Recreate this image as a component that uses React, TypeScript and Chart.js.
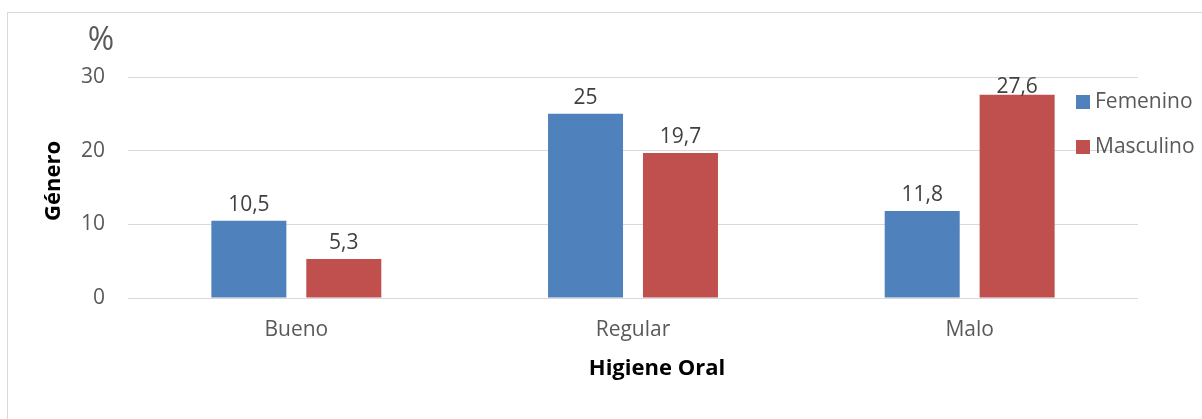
import React, { useEffect, useRef } from "react";
import { Chart, registerables } from "chart.js";

Chart.register(...registerables);

const categories = ["Bueno", "Regular", "Malo"];
const femenino = [10.5, 25, 11.8];
const masculino = [5.3, 19.7, 27.6];
const seriesLabels = ["Femenino", "Masculino"];
const yTicks = [0, 10, 20, 30];
const xTitle = "Higiene Oral";
const yTitle = "Género";

const FONT = "'Open Sans', 'Noto Sans', sans-serif";
const BLUE = "#4F81BD";
const RED = "#C0504D";
const GREY_TEXT = "#595959";

const fmt = (v: number) => String(v).replace(".", ",");

// Value labels above each bar, kept inside the plot area
const valueLabels = {
  id: "valueLabels",
  afterDatasetsDraw(chart: any) {
    const { ctx, chartArea } = chart;
    ctx.save();
    ctx.font = `21px ${FONT}`;
    ctx.fillStyle = "#404040";
    ctx.textAlign = "center";
    ctx.textBaseline = "alphabetic";
    chart.data.datasets.forEach((ds: any, di: number) => {
      const meta = chart.getDatasetMeta(di);
      meta.data.forEach((bar: any, i: number) => {
        const y = Math.max(bar.y - 10, chartArea.top + 16);
        ctx.fillText(fmt(ds.data[i]), bar.x, y);
      });
    });
    ctx.restore();
  },
};

// Legend over the right side of the plot, axis titles and the "%" unit mark
const annotations = {
  id: "annotations",
  afterDraw(chart: any) {
    const { ctx } = chart;
    ctx.save();
    ctx.font = `21px ${FONT}`;
    ctx.textBaseline = "middle";
    ctx.textAlign = "left";
    chart.data.datasets.forEach((ds: any, i: number) => {
      const cy = 102 + i * 45;
      ctx.fillStyle = ds.backgroundColor;
      ctx.fillRect(1076, cy - 7, 14, 14);
      ctx.fillStyle = GREY_TEXT;
      ctx.fillText(ds.label, 1095, cy);
    });

    ctx.font = `32px ${FONT}`;
    ctx.textAlign = "center";
    ctx.fillStyle = GREY_TEXT;
    ctx.fillText("%", 101, 41);

    ctx.fillStyle = "#000";
    ctx.font = `bold 22px ${FONT}`;
    ctx.fillText(xTitle, 657, 369);

    ctx.translate(54, 181);
    ctx.rotate(-Math.PI / 2);
    ctx.fillText(yTitle, 0, 0);
    ctx.restore();
  },
};

export default function App() {
  const ref = useRef<HTMLCanvasElement | null>(null);

  useEffect(() => {
    if (!ref.current) return;
    const chart = new Chart(ref.current, {
      type: "bar",
      data: {
        labels: categories,
        datasets: [
          { label: seriesLabels[0], data: femenino, backgroundColor: BLUE },
          { label: seriesLabels[1], data: masculino, backgroundColor: RED },
        ],
      },
      options: {
        animation: false,
        responsive: false,
        maintainAspectRatio: false,
        layout: { padding: { left: 0, right: 64, top: 77, bottom: 0 } },
        datasets: {
          bar: { categoryPercentage: 0.564, barPercentage: 0.79 },
        },
        plugins: {
          legend: { display: false },
          tooltip: { enabled: false },
        },
        scales: {
          x: {
            grid: { display: false, drawTicks: false },
            border: { display: false },
            ticks: {
              color: GREY_TEXT,
              font: { family: FONT, size: 21 },
              padding: 19,
            },
            afterFit(scale: any) {
              scale.height = 121;
            },
          },
          y: {
            min: 0,
            max: 30,
            afterBuildTicks(scale: any) {
              scale.ticks = yTicks.map((v) => ({ value: v }));
            },
            grid: { color: "#D9D9D9", lineWidth: 1, drawTicks: false },
            border: { display: false },
            ticks: {
              color: GREY_TEXT,
              font: { family: FONT, size: 21 },
              padding: 23,
            },
            afterFit(scale: any) {
              scale.width = 128;
            },
          },
        },
      },
      plugins: [valueLabels, annotations],
    });
    return () => chart.destroy();
  }, []);

  return (
    <div
      style={{
        position: "fixed",
        left: 0,
        top: 0,
        width: 1202,
        height: 419,
        background: "#fff",
        overflow: "hidden",
      }}
    >
      <div
        style={{
          position: "absolute",
          left: 7,
          top: 12,
          width: 1300,
          height: 500,
          border: "1px solid #D9D9D9",
        }}
      />
      <canvas
        ref={ref}
        width={1202}
        height={419}
        style={{ position: "absolute", left: 0, top: 0 }}
      />
    </div>
  );
}
